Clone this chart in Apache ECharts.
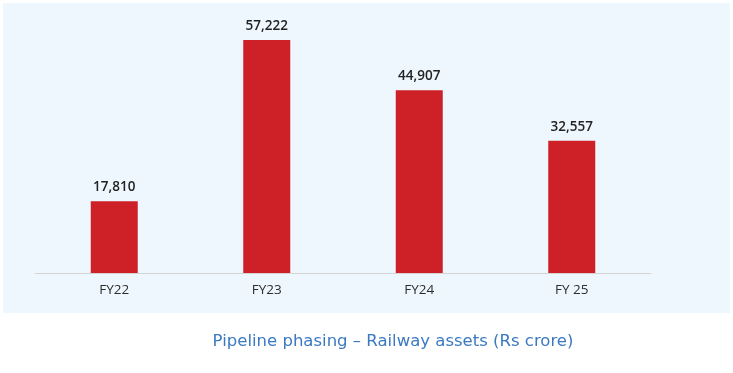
<!DOCTYPE html>
<html>
<head>
<meta charset="utf-8">
<script src="https://cdn.jsdelivr.net/npm/echarts@6/dist/echarts.min.js"></script>
<style>
html,body{margin:0;padding:0;background:#ffffff;}
#c{width:733px;height:373px;}
</style>
</head>
<body>
<div id="c"></div>
<script>
const categories = ['FY22', 'FY23', 'FY24', 'FY 25'];
const values = [17810, 57222, 44907, 32557];
const titleText = 'Pipeline phasing \u2013 Railway assets (Rs crore)';

const chart = echarts.init(document.getElementById('c'));
chart.setOption({
  animation: false,
  backgroundColor: '#ffffff',
  graphic: [
    { type: 'rect', z: -10, shape: { x: 3, y: 3, width: 727, height: 310 }, style: { fill: '#eef7fd' } },
    { type: 'line', z: 5, shape: { x1: 35, y1: 273.5, x2: 651, y2: 273.5 }, style: { stroke: '#d4d4d4', lineWidth: 1 } }
  ],
  title: {
    text: titleText,
    left: 388, top: 328, textAlign: 'center',
    textStyle: { color: '#3b79c2', fontSize: 16.5, fontWeight: 'normal', fontFamily: 'DejaVu Sans' }
  },
  grid: { left: 38, width: 610, top: 4, bottom: 99 },
  xAxis: {
    type: 'category',
    data: categories,
    axisLine: { show: false },
    axisTick: { show: false },
    axisLabel: { color: '#2e2e2e', fontSize: 13.5, fontWeight: 500, fontFamily: 'Open Sans', margin: 9 }
  },
  yAxis: {
    type: 'value', min: 0, max: 66000,
    show: false, splitLine: { show: false }
  },
  series: [{
    type: 'bar',
    data: values,
    barWidth: 47,
    itemStyle: { color: '#cd2027' },
    label: {
      show: true, position: 'top', distance: 7,
      color: '#222222', fontSize: 13.5, fontWeight: 600, fontFamily: 'Open Sans',
      formatter: p => p.value.toLocaleString('en-US')
    }
  }]
});
</script>
</body>
</html>
